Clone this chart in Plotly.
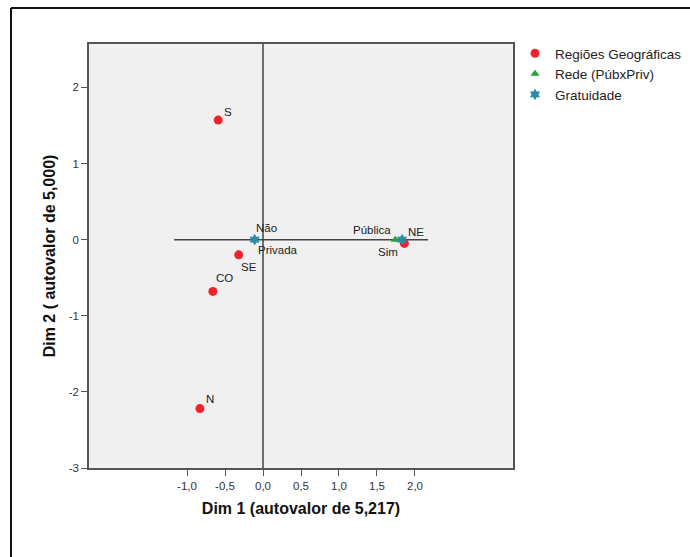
import plotly.graph_objects as go

# Category coordinates on the two dimensions
regioes = ["S", "N", "CO", "SE", "NE"]
regioes_dim1 = [-0.59, -0.83, -0.66, -0.32, 1.86]
regioes_dim2 = [1.57, -2.22, -0.68, -0.20, -0.05]

rede = ["Pública", "Privada"]
rede_dim1 = [1.74, -0.11]
rede_dim2 = [0.0, 0.0]

gratuidade = ["Sim", "Não"]
grat_dim1 = [1.83, -0.11]
grat_dim2 = [0.0, 0.0]

x_ticks = [-1.0, -0.5, 0.0, 0.5, 1.0, 1.5, 2.0]
y_ticks = [-3, -2, -1, 0, 1, 2]

# label offsets in pixels (right, up) from each point
regioes_off = [(10, 8), (10, 10), (12, 13), (10, -12), (12, 11)]
rede_off = [(-23, 10), (23, -10)]
grat_off = [(-14, -12), (12, 12)]

W, H = 690, 557
L, R, T, B = 89, 177, 44, 89
PW, PH = W - L - R, H - T - B

FONT = "Arial, Liberation Sans, sans-serif"
TXT = dict(family=FONT, size=11.5, color="#222")

fig = go.Figure()

fig.add_trace(go.Scatter(
    x=regioes_dim1, y=regioes_dim2, mode="markers", name="Regiões Geográficas",
    marker=dict(symbol="circle", size=9, color="#f2222b"),
))
fig.add_trace(go.Scatter(
    x=rede_dim1, y=rede_dim2, mode="markers", name="Rede (PúbxPriv)",
    marker=dict(symbol="triangle-up", size=8, color="#1fa33c"),
))
fig.add_trace(go.Scatter(
    x=grat_dim1, y=grat_dim2, mode="markers", name="Gratuidade",
    marker=dict(symbol="hexagram", size=9, color="#2b8bab"),
))

annotations = []
for names, xs, ys, offs in [
    (regioes, regioes_dim1, regioes_dim2, regioes_off),
    (rede, rede_dim1, rede_dim2, rede_off),
    (gratuidade, grat_dim1, grat_dim2, grat_off),
]:
    for name, xv, yv, (dx, dy) in zip(names, xs, ys, offs):
        annotations.append(dict(
            x=xv, y=yv, xref="x", yref="y", text=name, showarrow=False,
            xanchor="center", yanchor="middle", xshift=dx, yshift=dy, font=TXT,
        ))

x_range = [-2.29, 3.29]
y_range = [-3.0, 2.57]

shapes = [
    # reference axes through the origin
    dict(type="line", xref="x", yref="y", x0=-1.17, x1=2.17, y0=0, y1=0,
         line=dict(color="#444", width=1.5), layer="below"),
    dict(type="line", xref="x", yref="y", x0=0, x1=0, y0=y_range[0], y1=y_range[1],
         line=dict(color="#444", width=1.5), layer="below"),
    # outer frame (left and top edges)
    dict(type="line", xref="paper", yref="paper",
         x0=(11 - L) / PW, x1=(11 - L) / PW, y0=1 + (T - 8) / PH, y1=-(H - T - PH) / PH - 0.01,
         line=dict(color="#111", width=2)),
    dict(type="line", xref="paper", yref="paper",
         x0=(11 - L) / PW, x1=(W - L) / PW + 0.01, y0=1 + (T - 8) / PH, y1=1 + (T - 8) / PH,
         line=dict(color="#111", width=2)),
]

fig.update_layout(
    width=W, height=H,
    margin=dict(l=L, r=R, t=T, b=B, autoexpand=False),
    paper_bgcolor="white",
    plot_bgcolor="#f0f0f0",
    font=dict(family=FONT, size=11, color="#333"),
    shapes=shapes,
    annotations=annotations,
    showlegend=True,
    legend=dict(
        x=(515 - L) / PW, y=1 - (38 - T) / PH, xanchor="left", yanchor="top",
        font=dict(family=FONT, size=13.5, color="#222"),
        bgcolor="rgba(0,0,0,0)", itemsizing="trace", tracegroupgap=0,
    ),
    xaxis=dict(
        range=x_range, tickvals=x_ticks,
        ticktext=[f"{v:.1f}".replace(".", ",") for v in x_ticks],
        showgrid=False, zeroline=False,
        showline=True, mirror=True, linecolor="#555", linewidth=1.5,
        ticks="outside", ticklen=6, tickcolor="#555", tickwidth=1,
        tickfont=dict(family=FONT, size=11.5, color="#333"),
        title=dict(text="<b>Dim 1 (autovalor de 5,217)</b>",
                   font=dict(family=FONT, size=16, color="#111"), standoff=12),
    ),
    yaxis=dict(
        range=y_range, tickvals=y_ticks, ticktext=[str(v) for v in y_ticks],
        showgrid=False, zeroline=False,
        showline=True, mirror=True, linecolor="#555", linewidth=1.5,
        ticks="outside", ticklen=6, tickcolor="#555", tickwidth=1,
        tickfont=dict(family=FONT, size=11.5, color="#333"),
        title=dict(text="<b>Dim 2 ( autovalor de 5,000)</b>",
                   font=dict(family=FONT, size=16, color="#111"), standoff=9),
    ),
)

fig.write_html("out.html")
